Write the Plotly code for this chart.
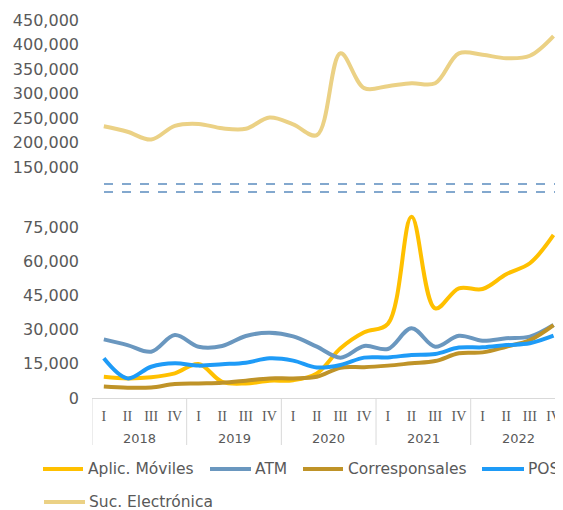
import plotly.graph_objects as go
from plotly.subplots import make_subplots

years = ["2018", "2019", "2020", "2021", "2022"]
quarters = ["I", "II", "III", "IV"]
quarter_labels = quarters * len(years)

aplic = [9300, 8600, 9100, 10800, 14900, 7100, 6400, 7600, 7800, 10800,
         21800, 28800, 32500, 79500, 39300, 48100, 47800, 54300, 59100, 71500]
atm = [25700, 23200, 20300, 27600, 22500, 22800, 27200, 28600, 27000, 22500,
       17700, 22800, 21500, 30600, 22500, 27300, 25100, 26200, 26900, 32000]
corr = [5000, 4500, 4600, 6100, 6400, 6700, 7600, 8600, 8600, 9300,
        13300, 13500, 14200, 15200, 16200, 19600, 20000, 22500, 25400, 32000]
pos = [17400, 8600, 13700, 15200, 14200, 14800, 15500, 17400, 16400, 13400,
       14500, 17700, 17800, 18900, 19300, 22100, 22200, 23200, 24000, 27300]
suc = [233000, 222000, 206000, 234000, 238000, 229000, 228000, 251000, 237000, 215000,
       382000, 311000, 315000, 321000, 321000, 382000, 379000, 372000, 377000, 417000]

top_ticks = [150000, 200000, 250000, 300000, 350000, 400000, 450000]
bottom_ticks = [0, 15000, 30000, 45000, 60000, 75000]

x = list(range(len(quarter_labels)))

# The page body has an 8px margin, so the figure is drawn 8px in from the window edge.
OFF = 8
W, H = 563 - OFF, 510 - OFF
ML, MR, MT = 92 - OFF, 0, 10 - OFF
BASE = 398 - OFF          # bottom of plot area, figure pixels
MB = H - BASE
PW, PH = W - ML - MR, H - MT - MB


def px_x(p):  # window pixel -> paper x
    return (p - OFF - ML) / PW


def px_y(p):  # window pixel -> paper y
    return (BASE - (p - OFF)) / PH


fig = make_subplots(rows=2, cols=1, shared_xaxes=True, vertical_spacing=0.0)

lw = 4
series = [
    ("Aplic. Móviles", aplic, "#FFC000", 2),
    ("ATM", atm, "#6A97BF", 2),
    ("Corresponsales", corr, "#BF9328", 2),
    ("POS", pos, "#1E9BF7", 2),
    ("Suc. Electrónica", suc, "#EBD185", 1),
]
for name, vals, col, row in series:
    fig.add_trace(go.Scatter(x=x, y=vals, name=name, mode="lines", showlegend=False,
                             line=dict(color=col, width=lw, shape="spline", smoothing=1.0)),
                  row=row, col=1)

grey = "#595959"
font = "DejaVu Sans, Verdana, sans-serif"

fig.update_layout(
    width=W, height=H,
    margin=dict(l=ML, r=MR, t=MT, b=MB, autoexpand=False),
    plot_bgcolor="white", paper_bgcolor="white",
    font=dict(family=font, color=grey, size=16),
    showlegend=False,
    yaxis=dict(domain=[px_y(171.9), px_y(17.55)], range=[140000, 455000], tickvals=top_ticks,
               tickformat=",d", showgrid=False, zeroline=False, showline=False,
               ticks="", ticklabelstandoff=12, automargin=False),
    yaxis2=dict(domain=[0, px_y(211)], range=[0, 82000], tickvals=bottom_ticks,
                tickformat=",d", showgrid=False, zeroline=False, showline=False,
                ticks="", ticklabelstandoff=12, automargin=False),
    xaxis=dict(range=[-0.5, 19.4], showticklabels=False, showgrid=False,
               zeroline=False, showline=False, automargin=False),
    xaxis2=dict(range=[-0.5, 19.4], tickvals=x, ticktext=quarter_labels,
                tickfont=dict(family="Liberation Serif, Times New Roman, serif", size=14, color=grey),
                showgrid=False, zeroline=False, showline=True, linecolor="#D9D9D9",
                linewidth=1, ticks="", ticklabelstandoff=5, automargin=False),
)

# axis-break dashed lines
for yy in [184, 192]:
    fig.add_shape(type="line", xref="paper", yref="paper", x0=px_x(104), x1=px_x(557),
                  y0=px_y(yy), y1=px_y(yy),
                  line=dict(color="#5B8CBF", width=1.3, dash="dash"))

# year group dividers and labels
for i in range(len(years) + 1):
    xv = -0.5 + 4 * i
    fig.add_shape(type="line", xref="x2", yref="paper", x0=xv, x1=xv, y0=0, y1=px_y(445),
                  line=dict(color="#D9D9D9", width=1))
for i, yr in enumerate(years):
    fig.add_annotation(x=1.5 + 4 * i, xref="x2", y=px_y(438), yref="paper",
                       text=yr, showarrow=False, yanchor="middle",
                       font=dict(family=font, size=13, color=grey))

# legend (drawn as key lines + labels)
legend_pos = [  # (line x0, line x1, text x, row y) in window pixels
    (43, 83, 86, 469),
    (210, 251, 253, 469),
    (303, 343, 346, 469),
    (482, 524, 526, 469),
    (44, 85, 87, 502),
]
for (name, vals, col, row), (lx0, lx1, tx, ty) in zip(series, legend_pos):
    fig.add_shape(type="line", xref="paper", yref="paper", x0=px_x(lx0), x1=px_x(lx1),
                  y0=px_y(ty), y1=px_y(ty), line=dict(color=col, width=4))
    fig.add_annotation(x=px_x(tx), xref="paper", y=px_y(ty), yref="paper", text=name,
                       showarrow=False, xanchor="left", yanchor="middle",
                       font=dict(family=font, size=15.5, color=grey))

fig.write_html("out.html")
